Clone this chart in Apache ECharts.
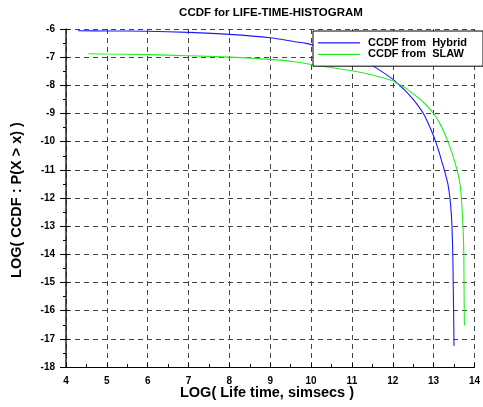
<!DOCTYPE html>
<html><head><meta charset="utf-8">
<script src="https://cdn.jsdelivr.net/npm/echarts@6/dist/echarts.min.js"></script>
<style>html,body{margin:0;padding:0;background:#fff}#c{width:483px;height:407px}</style>
</head><body><div id="c"></div>
<script>
var hybridX = [4.29, 5, 6, 7, 8, 9, 9.6, 9.88, 10.3, 10.8, 11.2, 11.51, 12, 12.12, 12.3, 12.5, 12.65, 12.75, 12.9, 13.0, 13.05, 13.13, 13.2, 13.28, 13.35, 13.40, 13.43, 13.45, 13.47, 13.48, 13.49, 13.50];
var hybridY = [-6.06, -6.07, -6.08, -6.12, -6.19, -6.31, -6.45, -6.51, -6.68, -6.9, -7.1, -7.31, -7.78, -7.94, -8.18, -8.5, -8.78, -9.0, -9.45, -9.8, -10.0, -10.35, -10.7, -11.1, -11.5, -12, -12.5, -13, -14, -15, -16, -17.25];
var slawX = [4.55, 5, 6, 7, 8, 9, 9.6, 10, 11, 11.5, 12, 12.12, 12.3, 12.5, 12.75, 13.0, 13.15, 13.25, 13.35, 13.45, 13.53, 13.60, 13.65, 13.68, 13.72, 13.74, 13.745, 13.75, 13.755];
var slawY = [-6.88, -6.89, -6.91, -6.95, -7.0, -7.08, -7.16, -7.26, -7.48, -7.63, -7.84, -7.94, -8.08, -8.3, -8.6, -9.0, -9.35, -9.65, -10.0, -10.4, -10.78, -11.15, -11.55, -12, -13, -14, -15, -16, -16.53];
var seriesNames = ['CCDF from  Hybrid', 'CCDF from  SLAW'];
function pairs(xs, ys){ return xs.map(function(x,i){ return [x, ys[i]]; }); }
var FONT = '"Liberation Sans", Arial, sans-serif';
var chart = echarts.init(document.getElementById('c'), null, {renderer:'canvas'});
var grid = {left:66, top:29, width:418, height:338};
var gridLine = {show:true, lineStyle:{color:'#444', width:1, type:[5,4]}};
chart.setOption({
  animation:false,
  backgroundColor:'#fff',
  grid: grid,
  graphic:[
    {type:'text', x:271, y:13, style:{text:'CCDF for LIFE-TIME-HISTOGRAM', font:'bold 11.5px '+FONT, fill:'#000', textAlign:'center', textVerticalAlign:'middle'}},
    {type:'text', x:267, y:393, style:{text:'LOG( Life time, simsecs )', font:'bold 14.5px '+FONT, fill:'#000', textAlign:'center', textVerticalAlign:'middle'}},
    {type:'text', x:17, y:200, rotation:Math.PI/2, style:{text:'LOG( CCDF : P(X > x) )', font:'bold 14.5px '+FONT, fill:'#000', textAlign:'center', textVerticalAlign:'middle'}}
  ],
  legend:{
    orient:'vertical', left:313, top:31,
    data: seriesNames, icon:'rect',
    backgroundColor:'#fff', borderColor:'#000', borderWidth:1,
    padding:[6,16,6,5], itemGap:0, itemWidth:42, itemHeight:1.3,
    textStyle:{fontFamily:FONT, fontWeight:'bold', fontSize:11, color:'#000', padding:[0,0,0,3], lineHeight:11.6}
  },
  xAxis:{
    type:'value', min:4, max:14, interval:1,
    axisLine:{show:true, onZero:false, lineStyle:{color:'#000', width:1.2}},
    axisTick:{show:true, inside:true, length:4, lineStyle:{color:'#000'}},
    minorTick:{show:true, splitNumber:2, length:3, lineStyle:{color:'#000'}},
    axisLabel:{fontFamily:FONT, fontWeight:'bold', fontSize:10, color:'#000', margin:9},
    splitLine: gridLine
  },
  yAxis:[{
    type:'value', min:-18, max:-6, interval:1,
    axisLine:{show:true, onZero:false, lineStyle:{color:'#222', width:1.5}},
    axisTick:{show:true, inside:false, length:6, lineStyle:{color:'#000'}},
    minorTick:{show:true, splitNumber:2, length:3, lineStyle:{color:'#000'}},
    axisLabel:{fontFamily:FONT, fontWeight:'bold', fontSize:10, color:'#000', margin:11},
    splitLine: gridLine
  },{
    type:'value', min:-18, max:-6, interval:1, position:'left',
    axisLine:{show:false},
    axisTick:{show:true, inside:true, length:3, lineStyle:{color:'#000'}},
    axisLabel:{show:false}, splitLine:{show:false}
  }],
  series:[
    {name:seriesNames[0], type:'line', symbol:'none', smooth:0.3, data:pairs(hybridX, hybridY),
     lineStyle:{color:'#1a1aff', width:1.1}, itemStyle:{color:'#1a1aff'}},
    {name:seriesNames[1], type:'line', symbol:'none', smooth:0.3, data:pairs(slawX, slawY),
     lineStyle:{color:'#22ee22', width:1.1}, itemStyle:{color:'#22ee22'}}
  ]
});
</script></body></html>
